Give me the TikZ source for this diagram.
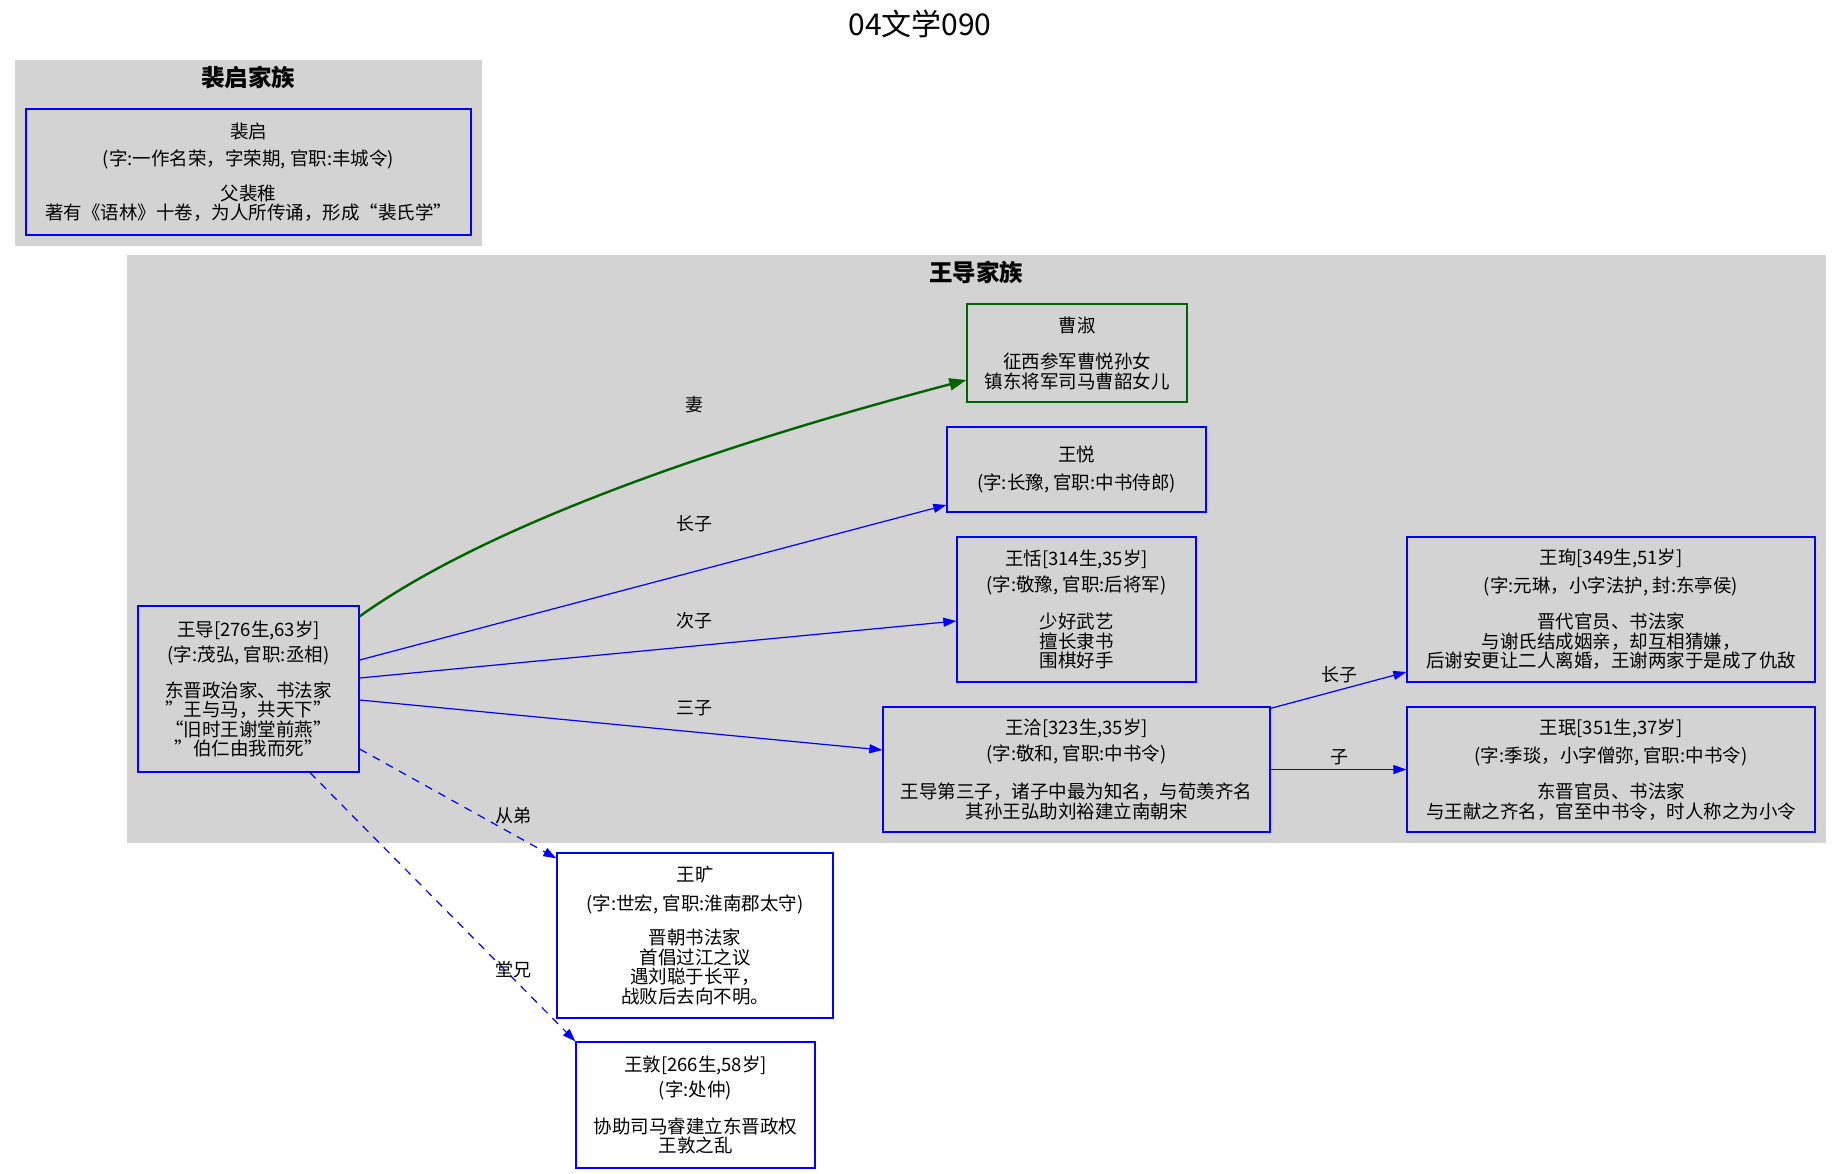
\documentclass[tikz,border=0pt]{standalone}
\usepackage{fontspec}
\setmainfont{Noto Sans CJK SC}
\usetikzlibrary{arrows.meta}
\definecolor{clusterbg}{HTML}{D3D3D3}
\definecolor{edgeblue}{HTML}{0000FF}
\definecolor{wifegreen}{HTML}{006400}
\begin{document}
\begin{tikzpicture}[x=1pt,y=-1pt,
  person/.style={draw=edgeblue, line width=1.3pt, rectangle, inner sep=0pt, align=center,
    font=\fontsize{18.5}{19.5}\selectfont, text=black},
  wifebox/.style={person, draw=wifegreen},
  cluster/.style={fill=clusterbg, draw=none},
  clabel/.style={font=\fontsize{23.5}{26}\selectfont\bfseries, text=black},
  rel/.style={draw=edgeblue, line width=1.2pt, -{Triangle[length=13pt,width=9pt]}},
  relwife/.style={draw=wifegreen, line width=2.4pt, -{Triangle[length=17pt,width=12pt]}},
  reldash/.style={rel, dash pattern=on 8pt off 7pt},
  elabel/.style={font=\fontsize{18}{19}\selectfont, text=black, inner sep=0pt}
]
\fill[white] (0,0) rectangle (1841,1173);
\useasboundingbox (0,0) rectangle (1841,1173);

\node[font=\fontsize{30}{34}\selectfont] (title) at (920,24) {04文学090};

% clusters
\fill[cluster] (15,60) rectangle (482,246);
\node[clabel] (c1label) at (248,78) {裴启家族};
\fill[cluster] (127,255) rectangle (1826,843);
\node[clabel] (c2label) at (976,272) {王导家族};

% nodes
\node[person, minimum width=445pt, minimum height=126pt] (peiqi) at (248.5,172)
  {裴启\\[8pt](字:一作名荣，字荣期, 官职:丰城令)\\[15pt]父裴稚\\著有《语林》十卷，为人所传诵，形成“裴氏学”};

\node[wifebox, minimum width=220pt, minimum height=98pt] (caoshu) at (1077,353)
  {曹淑\\[17pt]征西参军曹悦孙女\\镇东将军司马曹韶女儿};

\node[person, minimum width=259pt, minimum height=85pt] (wangyue) at (1076.5,469.5)
  {王悦\\[8pt](字:长豫, 官职:中书侍郎)};

\node[person, minimum width=239pt, minimum height=145pt] (wangtian) at (1076.5,609.5)
  {王恬[314生,35岁]\\[6pt](字:敬豫, 官职:后将军)\\[18pt]少好武艺\\擅长隶书\\围棋好手};

\node[person, minimum width=408pt, minimum height=145pt] (wangxun) at (1611,609.5)
  {王珣[349生,51岁]\\[8pt](字:元琳，小字法护, 封:东亭侯)\\[17pt]晋代官员、书法家\\与谢氏结成姻亲，却互相猜嫌，\\后谢安更让二人离婚，王谢两家于是成了仇敌};

\node[person, minimum width=408pt, minimum height=125pt] (wangmin) at (1611,769.5)
  {王珉[351生,37岁]\\[8pt](字:季琰，小字僧弥, 官职:中书令)\\[17pt]东晋官员、书法家\\与王献之齐名，官至中书令，时人称之为小令};

\node[person, minimum width=387pt, minimum height=125pt] (wangqia) at (1076.5,769.5)
  {王洽[323生,35岁]\\[6pt](字:敬和, 官职:中书令)\\[19pt]王导第三子，诸子中最为知名，与荀羡齐名\\其孙王弘助刘裕建立南朝宋};

\node[person, minimum width=221pt, minimum height=166pt] (wangdao) at (248.5,689)
  {王导[276生,63岁]\\[6pt](字:茂弘, 官职:丞相)\\[16pt]东晋政治家、书法家\\”王与马，共天下”\\“旧时王谢堂前燕”\\”伯仁由我而死”};

\node[person, minimum width=276pt, minimum height=165pt] (wangkuang) at (695,935.5)
  {王旷\\[9pt](字:世宏, 官职:淮南郡太守)\\[15pt]晋朝书法家\\首倡过江之议\\遇刘聪于长平，\\战败后去向不明。};

\node[person, minimum width=239pt, minimum height=126pt] (wangdun) at (695.5,1105)
  {王敦[266生,58岁]\\[6pt](字:处仲)\\[17pt]协助司马睿建立东晋政权\\王敦之乱};

% edges
\draw[relwife] ([yshift=-11pt]wangdao.north east) .. controls (480,530) and (700,450) .. ([yshift=-27pt]caoshu.west);
\node[elabel] (l1) at (694,405) {妻};

\draw[rel] ([yshift=29pt]wangdao.east) -- ([yshift=-35.5pt]wangyue.west);
\node[elabel] (l2) at (694,524) {长子};

\draw[rel] ([yshift=11pt]wangdao.east) -- ([yshift=-11.5pt]wangtian.west);
\node[elabel] (l3) at (694,621) {次子};

\draw[rel] ([yshift=-11pt]wangdao.east) -- ([yshift=19.5pt]wangqia.west);
\node[elabel] (l4) at (694,708) {三子};

\draw[reldash] ([yshift=-60pt]wangdao.east) -- ([yshift=-6pt]wangkuang.north west);
\node[elabel] (l5) at (513,816) {从弟};

\draw[reldash] ([xshift=61.5pt]wangdao.south) -- (wangdun.north west);
\node[elabel] (l6) at (513,970) {堂兄};

\draw[rel] ([yshift=-2pt]wangqia.north east) -- ([yshift=-62.5pt]wangxun.west);
\node[elabel] (l7) at (1339,675) {长子};

\draw[rel] (wangqia.east) -- (wangmin.west);
\node[elabel] (l8) at (1339,757) {子};
\end{tikzpicture}
\end{document}
